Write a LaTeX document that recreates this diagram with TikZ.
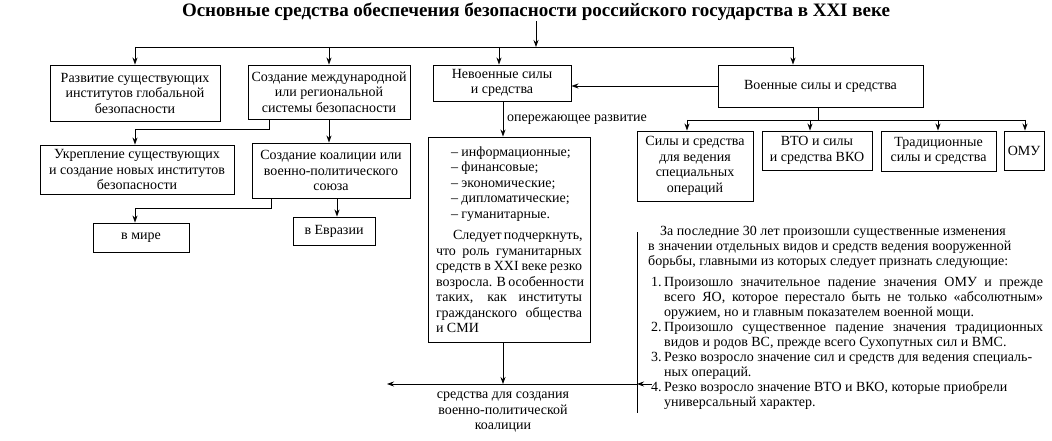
\documentclass[tikz,border=0pt]{standalone}
\usepackage{fontspec}
\setmainfont{Liberation Serif}
\usetikzlibrary{arrows.meta}
\begin{document}
\begin{tikzpicture}[x=1pt,y=-1pt,
  fnt/.style={font=\fontsize{14}{15.5}\selectfont},
  box/.style={draw,line width=0.9pt,inner sep=0pt,align=center,fnt},
  conn/.style={line width=0.8pt},
  arr/.style={conn,-{Stealth[length=7pt,width=5pt]}},
  txt/.style={inner sep=0pt,fnt}]
\useasboundingbox (0,0) rectangle (1052,441);
% title
\node[inner sep=0pt,font=\fontsize{19}{21}\selectfont\bfseries] (T) at (536,12) {Основные средства обеспечения безопасности российского государства в XXI веке};
% first level boxes
\node[box,minimum width=170pt,minimum height=56pt] (A) at (135,93) {Развитие существующих\\институтов глобальной\\безопасности};
\node[box,minimum width=162pt,minimum height=54pt] (B) at (329,92) {Создание международной\\или региональной\\системы безопасности};
\node[box,minimum width=138pt,minimum height=36pt] (C) at (502,83) {Невоенные силы\\и средства};
\node[box,minimum width=205pt,minimum height=42pt] (D) at (820.5,86) {Военные силы и средства};
% second level
\node[box,minimum width=194pt,minimum height=49pt] (E) at (137,169.5) {Укрепление существующих\\и создание новых институтов\\безопасности};
\node[box,minimum width=158pt,minimum height=55pt] (F) at (331,170.5) {Создание коалиции или\\военно-политического\\союза};
\node[box,minimum width=96pt,minimum height=29pt] (G) at (141,237.5) {в мире};
\node[box,minimum width=82pt,minimum height=28pt] (H) at (334,231) {в Евразии};
% list box
\node[box,minimum width=162pt,minimum height=205pt,align=left] (L) at (509,239.5) {%
\hspace*{15pt}– информационные;\\
\hspace*{15pt}– финансовые;\\
\hspace*{15pt}– экономические;\\
\hspace*{15pt}– дипломатические;\\
\hspace*{15pt}– гуманитарные.\\[6pt]
\hspace*{17pt}\makebox[129pt][s]{Следует подчеркнуть,}\\
\makebox[146pt][s]{что роль гуманитарных}\\
\makebox[146pt][s]{средств в XXI веке резко}\\
\makebox[146pt][s]{возросла. В особенности}\\
\makebox[146pt][s]{таких, как институты}\\
\makebox[146pt][s]{гражданского общества}\\
и СМИ};
% military boxes
\node[box,minimum width=116pt,minimum height=70pt] (M1) at (695,166) {Силы и средства\\для ведения\\специальных\\операций};
\node[box,minimum width=110pt,minimum height=39pt] (M2) at (817,150.5) {ВТО и силы\\и средства ВКО};
\node[box,minimum width=115pt,minimum height=40pt] (M3) at (938.5,151) {Традиционные\\силы и средства};
\node[box,minimum width=40pt,minimum height=39pt] (M4) at (1024,150.5) {ОМУ};
% labels and texts
\node[txt,anchor=west] (lab) at (507,120) {опережающее развитие};
\node[txt,anchor=north,align=center] (bot) at (503,392) {средства для создания\\военно-политической\\коалиции};
\node[txt,anchor=north west,align=left,font=\fontsize{14}{15}\selectfont] (R) at (648,226) {%
\hspace*{12pt}За последние 30 лет произошли существенные изменения\\
в значении отдельных видов и средств ведения вооруженной\\
борьбы, главными из которых следует признать следующие:\\[6pt]
\hspace*{3pt}\makebox[13pt][l]{1.}\makebox[379pt][s]{Произошло значительное падение значения ОМУ и прежде}\\
\hspace*{16pt}\makebox[379pt][s]{всего ЯО, которое перестало быть не только «абсолютным»}\\
\hspace*{16pt}оружием, но и главным показателем военной мощи.\\
\hspace*{3pt}\makebox[13pt][l]{2.}\makebox[379pt][s]{Произошло существенное падение значения традиционных}\\
\hspace*{16pt}видов и родов ВС, прежде всего Сухопутных сил и ВМС.\\
\hspace*{3pt}\makebox[13pt][l]{3.}Резко возросло значение сил и средств для ведения специаль-\\
\hspace*{16pt}ных операций.\\
\hspace*{3pt}\makebox[13pt][l]{4.}Резко возросло значение ВТО и ВКО, которые приобрели\\
\hspace*{16pt}универсальный характер.};
% coordinates
\coordinate (hL) at (135,47);
\coordinate (hR) at (793,47);
\coordinate (hC) at (499,47);
\coordinate (mh) at (818,120);
\coordinate (m1) at (687,120);
\coordinate (m2) at (810,120);
\coordinate (m3) at (938,120);
\coordinate (m4) at (1025,120);
\coordinate (vt) at (637,232);
\coordinate (vb) at (637,413);
\coordinate (vr) at (637,384);
\coordinate (bl) at (387,384);
\coordinate (r4) at (652,384);
% connectors
\draw[arr] (T.south) -- (T.south |- hL);
\draw[conn] (hL) -- (hR);
\draw[arr] (hL) -- (hL |- A.north);
\draw[arr] (B.north |- hL) -- (B.north);
\draw[arr] (hC) -- (hC |- C.north);
\draw[arr] (hR) -- (hR |- D.north);
\draw[arr] (D.west) -- (C.east |- D.west);
\draw[arr] ([xshift=22pt]B.south west) -- ++(0,10) -| ([xshift=-2pt]E.north);
\draw[arr] (B.south) -- (B.south |- F.north);
\draw[arr] ([xshift=20pt]F.south west) -- ++(0,10) -| ([xshift=-6pt]G.north);
\draw[arr] ([xshift=3pt]H.north |- F.south) -- ([xshift=3pt]H.north);
\draw[arr] ([xshift=1pt]C.south) -- ([xshift=1pt]C.south |- L.north);
\draw[arr] ([xshift=-6pt]L.south) -- ([xshift=-6pt]L.south |- vr);
\draw[conn] (vt) -- (vb);
\draw[arr] (vr) -- (bl);
\draw[arr] (r4) -- (vr);
\draw[conn] (D.south -| mh) -- (mh);
\draw[conn] (m1) -- (m4);
\draw[arr] (m1) -- (m1 |- M1.north);
\draw[arr] (m2) -- (m2 |- M2.north);
\draw[arr] (m3) -- (m3 |- M3.north);
\draw[arr] (m4) -- (m4 |- M4.north);
\end{tikzpicture}
\end{document}
